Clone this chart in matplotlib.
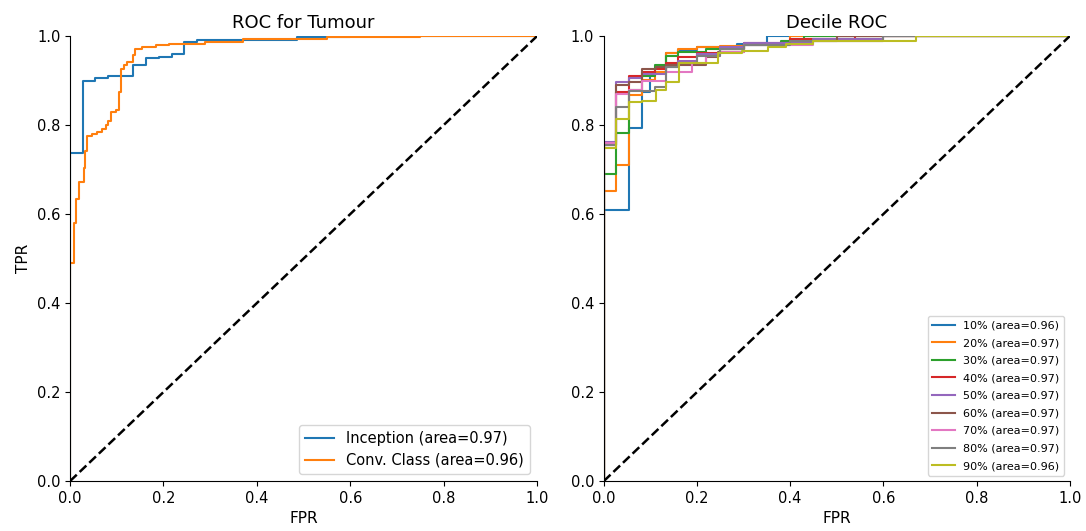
import matplotlib
matplotlib.use("Agg")
import matplotlib.pyplot as plt

# ROC for Tumour: (FPR, TPR) step vertices
inc_fpr = [0, 0, 0.027, 0.054, 0.081, 0.135, 0.163, 0.19, 0.218, 0.244, 0.271, 0.486, 0.6, 1.0]
inc_tpr = [0, 0.737, 0.899, 0.905, 0.911, 0.936, 0.95, 0.953, 0.959, 0.986, 0.991, 0.997, 1.0, 1.0]

conv_fpr = [0, 0, 0.008, 0.013, 0.02, 0.029, 0.033, 0.037, 0.047, 0.058, 0.068, 0.076,
            0.081, 0.088, 0.099, 0.104, 0.11, 0.115, 0.122, 0.134, 0.139, 0.154, 0.183,
            0.211, 0.29, 0.37, 0.55, 0.75, 1.0]
conv_tpr = [0, 0.49, 0.58, 0.634, 0.673, 0.703, 0.742, 0.775, 0.781, 0.785, 0.792, 0.80,
            0.81, 0.83, 0.834, 0.875, 0.925, 0.936, 0.942, 0.957, 0.971, 0.976, 0.98,
            0.983, 0.987, 0.993, 0.997, 1.0, 1.0]

# Decile ROC
decile_labels = ["10%", "20%", "30%", "40%", "50%", "60%", "70%", "80%", "90%"]
decile_auc = [0.96, 0.97, 0.97, 0.97, 0.97, 0.97, 0.97, 0.97, 0.96]
decile_fpr = [
    [0, 0, 0.054, 0.081, 0.10, 0.134, 0.16, 0.2, 0.285, 0.35, 1.0],
    [0, 0, 0.027, 0.054, 0.081, 0.11, 0.134, 0.16, 0.2, 0.25, 0.3, 0.4, 1.0],
    [0, 0, 0.027, 0.054, 0.081, 0.11, 0.134, 0.16, 0.22, 0.3, 0.38, 0.43, 1.0],
    [0, 0, 0.027, 0.054, 0.081, 0.11, 0.134, 0.16, 0.2, 0.25, 0.3, 0.4, 0.54, 1.0],
    [0, 0, 0.027, 0.054, 0.081, 0.134, 0.16, 0.2, 0.25, 0.3, 0.45, 0.6, 1.0],
    [0, 0, 0.027, 0.054, 0.081, 0.113, 0.134, 0.22, 0.245, 0.3, 0.4, 0.5, 1.0],
    [0, 0, 0.027, 0.054, 0.081, 0.134, 0.19, 0.22, 0.25, 0.3, 0.45, 0.6, 1.0],
    [0, 0, 0.027, 0.054, 0.081, 0.11, 0.134, 0.16, 0.2, 0.25, 0.3, 0.4, 0.6, 1.0],
    [0, 0, 0.027, 0.054, 0.081, 0.113, 0.134, 0.161, 0.245, 0.296, 0.352, 0.39, 0.45, 0.67, 1.0],
]
decile_tpr = [
    [0, 0.609, 0.794, 0.875, 0.916, 0.963, 0.968, 0.975, 0.982, 1.0, 1.0],
    [0, 0.652, 0.71, 0.867, 0.901, 0.92, 0.963, 0.972, 0.976, 0.978, 0.982, 1.0, 1.0],
    [0, 0.691, 0.783, 0.879, 0.91, 0.936, 0.955, 0.965, 0.972, 0.98, 0.99, 1.0, 1.0],
    [0, 0.755, 0.875, 0.91, 0.92, 0.925, 0.94, 0.952, 0.962, 0.972, 0.985, 0.993, 1.0, 1.0],
    [0, 0.762, 0.897, 0.905, 0.915, 0.93, 0.945, 0.96, 0.975, 0.985, 0.993, 1.0, 1.0],
    [0, 0.755, 0.89, 0.896, 0.925, 0.93, 0.935, 0.953, 0.965, 0.98, 0.99, 1.0, 1.0],
    [0, 0.76, 0.871, 0.88, 0.9, 0.92, 0.94, 0.955, 0.965, 0.98, 0.99, 1.0, 1.0],
    [0, 0.755, 0.84, 0.877, 0.877, 0.885, 0.931, 0.94, 0.955, 0.97, 0.98, 0.99, 1.0, 1.0],
    [0, 0.748, 0.813, 0.852, 0.855, 0.879, 0.897, 0.939, 0.961, 0.967, 0.975, 0.983, 0.99, 1.0, 1.0],
]

plt.rcParams["xtick.labelsize"] = 10.5
plt.rcParams["ytick.labelsize"] = 10.5

fig = plt.figure(figsize=(10.86, 5.31), dpi=100)
ax1 = fig.add_axes([0.0645, 0.094, 0.43, 0.838])
ax2 = fig.add_axes([0.556, 0.094, 0.429, 0.838])

ax1.plot(inc_fpr, inc_tpr, drawstyle="steps-post", lw=1.5,
         label="Inception (area=0.97)")
ax1.plot(conv_fpr, conv_tpr, drawstyle="steps-post", lw=1.5,
         label="Conv. Class (area=0.96)")
ax1.plot([0, 1], [0, 1], "k--", lw=1.8)
ax1.set_title("ROC for Tumour", fontsize=13)
ax1.set_xlabel("FPR", fontsize=11)
ax1.set_ylabel("TPR", fontsize=11)
ax1.legend(loc="lower right", fontsize=10.5)

for lab, auc, f, t in zip(decile_labels, decile_auc, decile_fpr, decile_tpr):
    ax2.plot(f, t, drawstyle="steps-post", lw=1.5, label=f"{lab} (area={auc:.2f})")
ax2.plot([0, 1], [0, 1], "k--", lw=1.8)
ax2.set_title("Decile ROC", fontsize=13)
ax2.set_xlabel("FPR", fontsize=11)
ax2.legend(loc="lower right", fontsize=8, labelspacing=0.68)

for ax in (ax1, ax2):
    ax.set_xlim(0, 1)
    ax.set_ylim(0, 1)
    ax.spines["top"].set_visible(False)
    ax.spines["right"].set_visible(False)

fig.savefig("out.png", dpi=100)
